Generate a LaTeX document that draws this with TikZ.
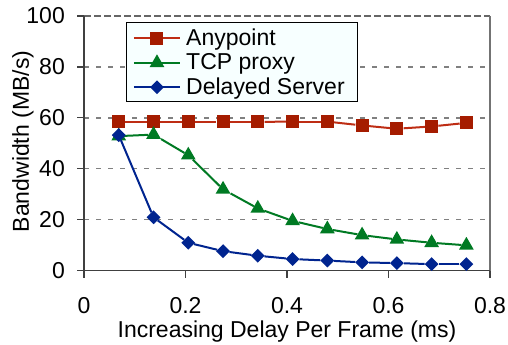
\documentclass[tikz,border=0pt]{standalone}
\usepackage{fontspec}
\setmainfont{Liberation Sans}
\usetikzlibrary{shapes.geometric}

\definecolor{anyred}{RGB}{165,28,0}
\definecolor{anyline}{RGB}{190,45,20}
\definecolor{tcpgreen}{RGB}{0,122,35}
\definecolor{delblue}{RGB}{0,36,143}
\definecolor{gridgray}{RGB}{128,128,128}
\definecolor{axisgray}{RGB}{64,64,64}
\definecolor{legendfill}{RGB}{247,255,255}

\begin{document}
\begin{tikzpicture}[x=507.5pt,y=2.545pt,font=\fontsize{23}{27}\selectfont,
    any node/.style={rectangle,fill=anyred,inner sep=0pt,minimum size=13pt},
    tcp node/.style={regular polygon,regular polygon sides=3,fill=tcpgreen,inner sep=0pt,minimum size=17pt},
    del node/.style={diamond,fill=delblue,inner sep=0pt,minimum width=14pt,minimum height=14pt},
    any line/.style={anyline,line width=2pt},
    tcp line/.style={tcpgreen,line width=2pt},
    del line/.style={delblue,line width=2pt},
    grid line/.style={gridgray,line width=1.5pt,dash pattern=on 4.5pt off 7.5pt},
    tick label/.style={inner sep=0pt}]

    \useasboundingbox (-0.16552,-29.27) rectangle (0.83547,106.29);

    % Grid and axes
    \foreach \y in {20,40,60,80}
      \draw[grid line] (0,\y) -- (0.8,\y);
    \draw[axisgray!80,line width=1.5pt,dash pattern=on 7pt off 3pt] (0,100) -- (0.8,100);
    \draw[gridgray!90!black,line width=1.2pt] (0.8,0) -- (0.8,100);
    \draw[axisgray,line width=1.5pt] (0,100) -- (0,0) -- (0.8,0);

    \foreach \y in {0,20,40,60,80,100} {
      \draw[axisgray,line width=1.2pt] (0,\y) -- ++(-7pt,0);
      \node[tick label,anchor=east,xshift=-19pt] (ylab\y) at (0,\y) {\y};
    }
    \foreach \x/\n in {0/0,0.2/2,0.4/4,0.6/6,0.8/8} {
      \draw[axisgray,line width=1.2pt] (\x,0) -- ++(0,-7pt);
      \node[tick label,anchor=base,yshift=-42.5pt] (xlab\n) at (\x,0) {\x};
    }
    \node[anchor=base,yshift=-66.5pt] (xtitle) at (0.4,0) {Increasing Delay Per Frame (ms)};
    \node[anchor=base,rotate=90] (ytitle) at (-0.1084,50.7) {Bandwidth (MB/s)};

    % Anypoint
    \foreach \v [count=\i] in {58.4,58.4,58.4,58.4,58.4,58.5,58.5,57.0,55.7,56.6,58.0}
      \node[any node] (any\i) at ({0.0685*\i},\v) {};
    \foreach \i [remember=\i as \j (initially 1)] in {2,...,11}
      \draw[any line] (any\j) -- (any\i);

    % TCP proxy
    \foreach \v [count=\i] in {52.8,53.4,45.3,31.9,24.4,19.5,16.3,13.9,12.2,10.9,9.9}
      \node[tcp node] (tcp\i) at ({0.0685*\i},\v) {};
    \foreach \i [remember=\i as \j (initially 1)] in {2,...,11}
      \draw[tcp line] (tcp\j) -- (tcp\i);

    % Delayed Server
    \foreach \v [count=\i] in {53.2,20.9,10.9,7.6,5.8,4.5,3.9,3.2,2.9,2.5,2.5}
      \node[del node] (del\i) at ({0.0685*\i},\v) {};
    \foreach \i [remember=\i as \j (initially 1)] in {2,...,11}
      \draw[del line] (del\j) -- (del\i);

    % Legend
    \node[draw=black,line width=0.8pt,fill=legendfill,minimum width=231.3pt,minimum height=79pt] (legend) at (0.3106,81.85) {};
    \coordinate (anya) at (0.0985,91.2);  \coordinate (anyb) at (0.189,91.2);
    \coordinate (tcpa) at (0.0985,81.6);  \coordinate (tcpb) at (0.189,81.6);
    \coordinate (dela) at (0.0985,72.0);  \coordinate (delb) at (0.189,72.0);
    \draw[any line] (anya) -- (anyb);
    \draw[tcp line] (tcpa) -- (tcpb);
    \draw[del line] (dela) -- (delb);
    \node[any node] (anykey) at (0.1438,91.2) {};
    \node[tcp node] (tcpkey) at (0.1438,81.6) {};
    \node[del node] (delkey) at (0.1438,72.0) {};
    \node[anchor=base west,inner sep=0pt] (anytext) at (0.201,88.6) {Anypoint};
    \node[anchor=base west,inner sep=0pt] (tcptext) at (0.201,78.8) {TCP proxy};
    \node[anchor=base west,inner sep=0pt] (deltext) at (0.201,69.0) {Delayed Server};

  \end{tikzpicture}
\end{document}
